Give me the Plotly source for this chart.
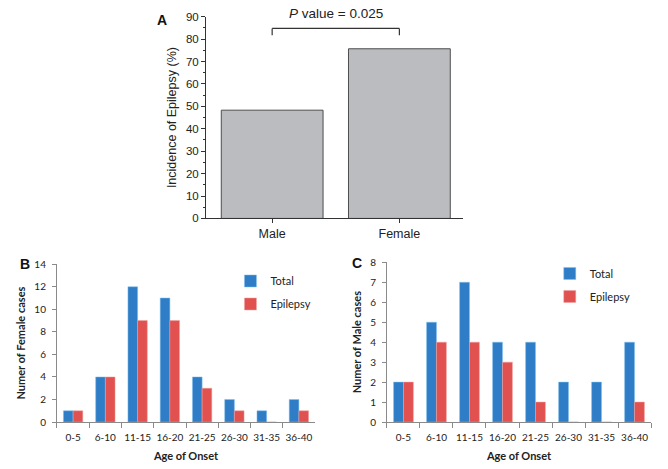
import plotly.graph_objects as go

# Panel A: incidence of epilepsy by sex
sex = ["Male", "Female"]
incidence = [48.3, 75.7]

# Panels B/C: age of onset
age_groups = ["0-5", "6-10", "11-15", "16-20", "21-25", "26-30", "31-35", "36-40"]
female_total = [1, 4, 12, 11, 4, 2, 1, 2]
female_epilepsy = [1, 4, 9, 9, 3, 1, 0, 1]
male_total = [2, 5, 7, 4, 4, 2, 2, 4]
male_epilepsy = [2, 4, 4, 3, 1, 0, 0, 1]

BLUE = "#2F7DC6"
RED = "#E0514F"
ARIAL = "Liberation Sans, Arial, sans-serif"
CAL = "Lato, Open Sans, sans-serif"

fig = go.Figure()

fig.add_trace(go.Bar(x=sex, y=incidence, xaxis="x", yaxis="y", width=0.8,
                     marker=dict(color="#BABCBF", line=dict(color="#4d4d4d", width=1)),
                     showlegend=False))

fig.add_trace(go.Bar(x=age_groups, y=female_total, name="Total", xaxis="x2", yaxis="y2",
                     marker=dict(color=BLUE, line=dict(color="#7fc0ee", width=0.5)),
                     legend="legend", legendgroup="t"))
fig.add_trace(go.Bar(x=age_groups, y=female_epilepsy, name="Epilepsy", xaxis="x2", yaxis="y2",
                     marker=dict(color=RED, line=dict(color="#f0a0a0", width=0.5)),
                     legend="legend", legendgroup="e"))
fig.add_trace(go.Bar(x=age_groups, y=male_total, name="Total", xaxis="x3", yaxis="y3",
                     marker=dict(color=BLUE, line=dict(color="#7fc0ee", width=0.5)),
                     legend="legend2", legendgroup="t2"))
fig.add_trace(go.Bar(x=age_groups, y=male_epilepsy, name="Epilepsy", xaxis="x3", yaxis="y3",
                     marker=dict(color=RED, line=dict(color="#f0a0a0", width=0.5)),
                     legend="legend2", legendgroup="e2"))

axA = dict(showline=True, linecolor="#333", linewidth=1, ticks="outside", ticklen=4,
           tickcolor="#333", showgrid=False, zeroline=False,
           tickfont=dict(family=ARIAL, size=11.5, color="#222"))
axBC = dict(showline=True, linecolor="#8a8a8a", linewidth=1, ticks="outside", ticklen=4,
            tickcolor="#8a8a8a", showgrid=False, zeroline=False,
            tickfont=dict(family=CAL, size=10, color="#222"))

fig.update_layout(
    width=668, height=469,
    margin=dict(l=0, r=0, t=0, b=0),
    paper_bgcolor="white", plot_bgcolor="white",
    barmode="group", bargap=0.4, bargroupgap=0,
    xaxis=dict(axA, domain=[0.3084, 0.6931], range=[-0.52, 1.5], anchor="y",
               tickfont=dict(family=ARIAL, size=12.5, color="#222")),
    yaxis=dict(axA, domain=[0.5352, 0.9765], range=[0, 90], dtick=10, anchor="x",
               minor=dict(ticks="outside", ticklen=2, dtick=5, tickcolor="#333"),
               title=dict(text="Incidence of Epilepsy (%)", standoff=6,
                          font=dict(family=ARIAL, size=12.5, color="#222"))),
    xaxis2=dict(axBC, domain=[0.0853, 0.4716], range=[-0.5, 7.5], anchor="y2",
                tickson="boundaries", ticklen=5, tickangle=0, ticklabelstandoff=6,
                title=dict(text="<b>Age of Onset</b>", standoff=10,
                           font=dict(family=CAL, size=11, color="#222"))),
    yaxis2=dict(axBC, domain=[0.0896, 0.435], range=[0, 14], dtick=2, anchor="x2",
                ticklabelstandoff=4,
                title=dict(text="<b>Numer of Female cases</b>", standoff=6,
                           font=dict(family=CAL, size=11, color="#222"))),
    xaxis3=dict(axBC, domain=[0.5793, 0.9746], range=[-0.5, 7.5], anchor="y3",
                tickson="boundaries", ticklen=5, tickangle=0, ticklabelstandoff=6,
                title=dict(text="<b>Age of Onset</b>", standoff=10,
                           font=dict(family=CAL, size=11, color="#222"))),
    yaxis3=dict(axBC, domain=[0.0896, 0.4392], range=[0, 8], dtick=1, anchor="x3",
                ticklabelstandoff=4,
                title=dict(text="<b>Numer of Male cases</b>", standoff=6,
                           font=dict(family=CAL, size=11, color="#222"))),
    legend=dict(x=0.345, y=0.43, xanchor="left", yanchor="top", tracegroupgap=4,
                traceorder="grouped", bgcolor="rgba(0,0,0,0)",
                font=dict(family=CAL, size=11, color="#222"), itemwidth=30),
    legend2=dict(x=0.823, y=0.4465, xanchor="left", yanchor="top", tracegroupgap=4,
                 traceorder="grouped", bgcolor="rgba(0,0,0,0)",
                 font=dict(family=CAL, size=11, color="#222"), itemwidth=30),
)

# significance bracket
for x0, y0, x1, y1 in [(0, 81.7, 0, 84.8), (0, 84.8, 1, 84.8), (1, 84.8, 1, 81.7)]:
    fig.add_shape(type="line", xref="x", yref="y", x0=x0, y0=y0, x1=x1, y1=y1,
                  line=dict(color="#333", width=1.2))

fig.add_annotation(text="<i>P</i> value = 0.025", xref="x", yref="paper", x=0.5, y=1 - 8 / 469,
                   xanchor="center", yanchor="middle", showarrow=False,
                   font=dict(family=ARIAL, size=13.5, color="#222"))
for letter, xp, yp in [("A", 162, 14), ("B", 25, 265), ("C", 357, 264)]:
    fig.add_annotation(text="<b>" + letter + "</b>", xref="paper", yref="paper",
                       x=xp / 668, y=1 - yp / 469, xanchor="center", yanchor="middle",
                       showarrow=False, font=dict(family=ARIAL, size=14, color="#111"))

fig.write_html("out.html", config={"displayModeBar": False},
               post_script="document.body.style.margin='0';")
